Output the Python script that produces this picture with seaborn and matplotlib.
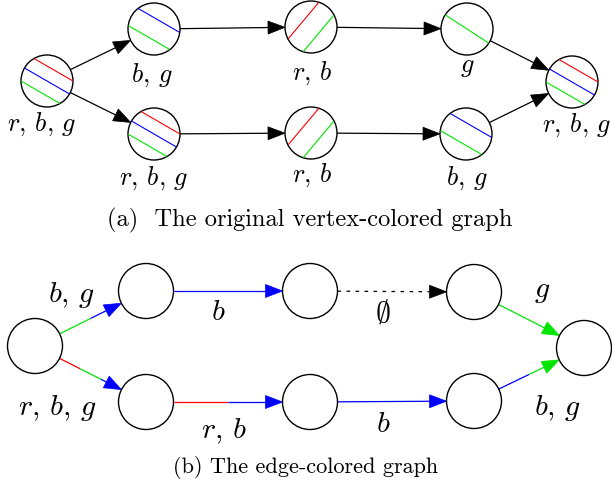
import numpy as np
import matplotlib
matplotlib.use("Agg")
import matplotlib.pyplot as plt
from matplotlib.patches import Circle, Polygon
import seaborn as sns

# ---------------- data ----------------
nodes = ["s", "a1", "a2", "b1", "b2", "c1", "c2", "t"]

# (a) vertex-coloured graph
top_node_labels = [r"$r,\,b,\,g$", r"$b,\,g$", r"$r,\,b,\,g$", r"$r,\,b$",
                   r"$r,\,b$", r"$g$", r"$b,\,g$", r"$r,\,b,\,g$"]
top_node_stripes = [["r", "b", "g"], ["b", "g"], ["r", "b", "g"], ["r", "g"],
                    ["r", "g"], ["g"], ["b", "g"], ["r", "b", "g"]]

edge_src = ["s", "s", "a1", "a2", "b1", "b2", "c1", "c2"]
edge_dst = ["a1", "a2", "b1", "b2", "c1", "c2", "t", "t"]

# (b) edge-coloured graph
bot_edge_colors = [["g", "b"], ["r", "g", "b"], ["b"], ["r", "b"],
                   [], ["b"], ["g"], ["b", "g"]]
bot_edge_labels = [r"$b,\,g$", r"$r,\,b,\,g$", r"$b$", r"$r,\,b$",
                   r"$\emptyset$", r"$b$", r"$g$", r"$b,\,g$"]

captions = ["(a)  The original vertex-colored graph",
            "(b) The edge-colored graph"]

# ---------------- layout / style ----------------
top_pos = {"s": (47, 82), "a1": (154, 30), "a2": (154, 135), "b1": (311, 28),
           "b2": (311, 134), "c1": (467, 30), "c2": (466, 135), "t": (572, 83)}
bot_pos = {"s": (35, 347), "a1": (146, 292), "a2": (146, 403), "b1": (310, 292),
           "b2": (310, 403), "c1": (474, 293), "c2": (474, 402), "t": (584, 349)}
top_label_xy = [(42, 131), (152, 82), (154, 185), (312, 80),
                (312, 182), (467, 72), (467, 185), (577, 132)]
bot_label_xy = [(71, 302), (57, 415), (218, 320), (224, 438),
                (383, 322), (383, 432), (542, 297), (557, 415)]
stripe_angle = {"s": 30, "a1": 30, "a2": 30, "b1": -50, "b2": -50,
                "c1": 33, "c2": 30, "t": 30}
caption_xy = [(310, 226), (306, 473)]
caption_size = [17.6, 16.0]

R_TOP, R_BOT = 26.0, 27.5
HEAD_L, HEAD_W = 17.0, 6.5
palette = {"r": "#ff0000", "b": "#0000ff", "g": "#00e600"}

sns.set_theme(style="white")
plt.rcParams["mathtext.fontset"] = "cm"
plt.rcParams["text.color"] = "black"

fig = plt.figure(figsize=(6.12, 4.89), dpi=100)
ax = fig.add_axes([0, 0, 1, 1])
ax.set_xlim(0, 612)
ax.set_ylim(489, 0)
ax.set_axis_off()


def draw_edge(p, q, r1, r2, colors, lw=1.0, dashed=False):
    p = np.array(p, float)
    q = np.array(q, float)
    u = (q - p) / np.linalg.norm(q - p)
    start = p + u * r1
    tip = q - u * r2
    base = tip - u * HEAD_L
    nrm = np.array([-u[1], u[0]])
    if not colors:
        ax.plot([start[0], base[0]], [start[1], base[1]], color="black", lw=lw,
                ls=(0, (2.9, 4.3)) if dashed else "-", zorder=2)
        head_c = "black"
    else:
        k = len(colors)
        pts = [start + (tip - start) * i / k for i in range(k + 1)]
        for i, c in enumerate(colors):
            a, b = pts[i], pts[i + 1]
            if i == k - 1:
                b = base
            ax.plot([a[0], b[0]], [a[1], b[1]], color=palette.get(c, c), lw=lw,
                    solid_capstyle="butt", zorder=2)
        head_c = palette.get(colors[-1], colors[-1])
    ax.add_patch(Polygon([tip, base + nrm * HEAD_W, base - nrm * HEAD_W],
                         closed=True, color=head_c, lw=0.5, zorder=3))


# ---- (a) ----
for n, lab, stripes, (lx, ly) in zip(nodes, top_node_labels, top_node_stripes, top_label_xy):
    cx, cy = top_pos[n]
    ax.add_patch(Circle((cx, cy), R_TOP, facecolor="white", edgecolor="black",
                        lw=1.0, zorder=4))
    th = np.deg2rad(stripe_angle[n])
    d = np.array([np.cos(th), np.sin(th)])
    nv = np.array([-np.sin(th), np.cos(th)])
    k = len(stripes)
    offs = {1: [0.0], 2: [-0.38, 0.38], 3: [-0.5, 0.0, 0.5]}[k]
    for c, o in zip(stripes, offs):
        off = o * R_TOP
        h = np.sqrt(R_TOP ** 2 - off ** 2) - 0.6
        m = np.array([cx, cy]) + nv * off
        a, b = m - d * h, m + d * h
        ax.plot([a[0], b[0]], [a[1], b[1]], color=palette[c], lw=0.8, zorder=5)
    ax.text(lx, ly, lab, fontsize=19, ha="center", va="baseline", zorder=6)

for s, t in zip(edge_src, edge_dst):
    draw_edge(top_pos[s], top_pos[t], R_TOP, R_TOP, [], lw=0.9)

# ---- (b) ----
for n in nodes:
    ax.add_patch(Circle(bot_pos[n], R_BOT, facecolor="white", edgecolor="black",
                        lw=1.0, zorder=4))
for s, t, cols, lab, (lx, ly) in zip(edge_src, edge_dst, bot_edge_colors,
                                     bot_edge_labels, bot_label_xy):
    draw_edge(bot_pos[s], bot_pos[t], R_BOT, R_BOT, cols, lw=0.9, dashed=not cols)
    ax.text(lx, ly, lab, fontsize=21.5, ha="center", va="baseline", zorder=6)

for cap, (x, y), fs in zip(captions, caption_xy, caption_size):
    ax.text(x, y, cap, fontsize=fs, family="cmr10", ha="center", va="baseline")

fig.savefig("out.png", dpi=100)
